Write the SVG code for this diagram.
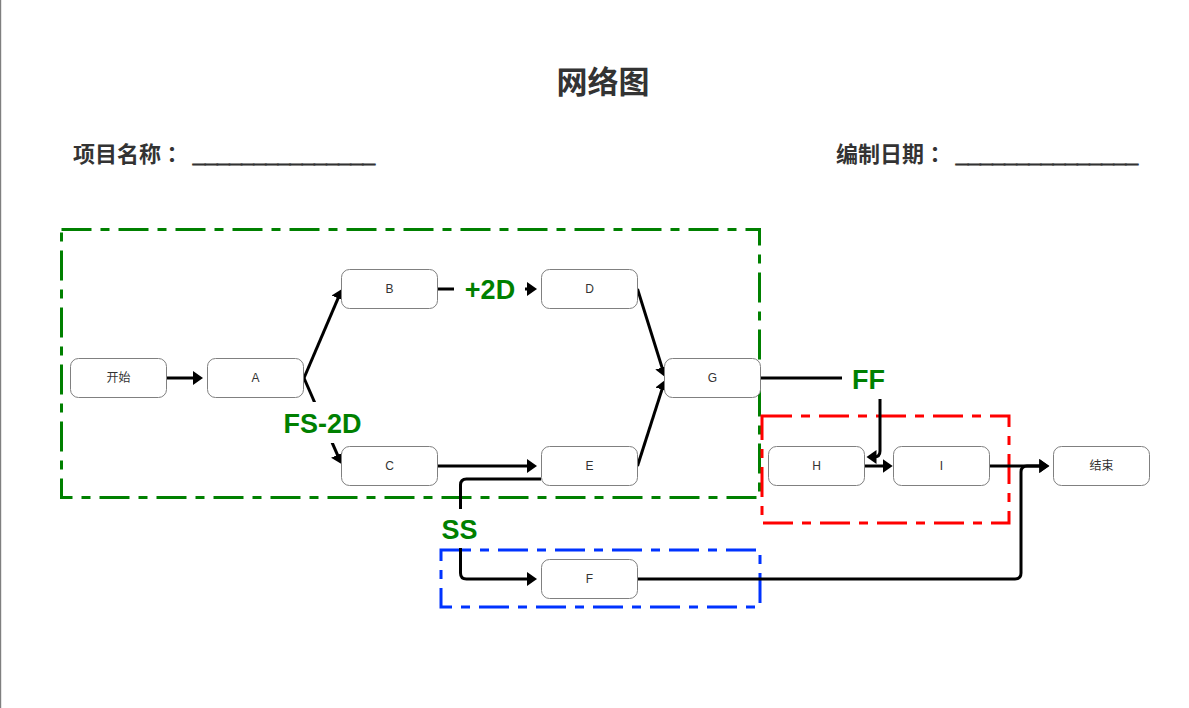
<svg xmlns="http://www.w3.org/2000/svg" width="1189" height="708" viewBox="0 0 1189 708">
<defs>
<marker id="arr" markerUnits="userSpaceOnUse" markerWidth="14" markerHeight="14" refX="7" refY="7" orient="auto">
<path d="M0,0 L10,7 L0,14 Z" fill="#000"/>
</marker>
<style>
.hdr{font-family:"Liberation Sans","Noto Sans CJK SC",sans-serif;font-weight:bold;fill:#333333}
.col{font-family:"Noto Sans CJK TC",sans-serif}
.ul{stroke:#333333;stroke-width:1.3}
.box{fill:#ffffff;stroke:#808080;stroke-width:1}
.nt{font-family:"Liberation Sans","Noto Sans CJK SC",sans-serif;font-size:12px;fill:#333333;text-anchor:middle}
.grp{fill:none;stroke-width:3;stroke-dasharray:30 9 9 9}
.cn{fill:none;stroke:#000;stroke-width:3;marker-end:url(#arr)}
.lb{font-family:"Liberation Sans",Arial,sans-serif;font-size:27px;font-weight:bold;fill:#008000;text-anchor:middle}
.lbg{fill:#ffffff}
</style>
</defs>
<rect x="0" y="0" width="1189" height="708" fill="#ffffff"/>
<rect x="0" y="0" width="1.2" height="708" fill="#7f7f7f"/>

<g id="header">
<text class="hdr" x="603" y="93" font-size="31" text-anchor="middle">网络图</text>
<text class="hdr" x="73" y="162" font-size="22">项目名称<tspan class="col">：</tspan></text>
<text class="hdr ul" x="193" y="162" font-size="22" textLength="182" lengthAdjust="spacingAndGlyphs">_______________</text>
<text class="hdr" x="836" y="162" font-size="22">编制日期<tspan class="col">：</tspan></text>
<text class="hdr ul" x="956" y="162" font-size="22" textLength="182" lengthAdjust="spacingAndGlyphs">_______________</text>
</g>

<g id="groups">
<rect id="grp-green" class="grp" x="61.5" y="229.5" width="698" height="268" stroke="#008000"/>
<rect id="grp-red" class="grp" x="762" y="416" width="247" height="107" stroke="#ff0000"/>
<rect id="grp-blue" class="grp" x="441" y="550" width="319" height="57" stroke="#0033ff"/>
</g>

<g id="connectors">
<path class="cn" d="M166.5 378 L200 378"/>
<path class="cn" d="M304 378 L340.8 291.8"/>
<path class="cn" d="M304 378 L340.3 461.3"/>
<path class="cn" d="M437.5 289 L534 289"/>
<path class="cn" d="M437.5 466 L534 466"/>
<path class="cn" d="M637.5 289 L664.1 374.1"/>
<path class="cn" d="M637.5 466 L664.1 382.9"/>
<path class="cn" d="M760.5 378 L874 378 Q880 378 880 384 L880 451 Q880 457 874 457 L869.5 457"/>
<path class="cn" d="M864.5 466 L889.7 466"/>
<path class="cn" d="M989.5 466 L1046.3 466"/>
<path class="cn" d="M637.5 579 L1015 579 Q1021 579 1021 573 L1021 472 Q1021 466 1027 466 L1046.3 466"/>
<path class="cn" d="M541 479 L466.5 479 Q460.5 479 460.5 485 L460.5 573 Q460.5 579 466.5 579 L534 579"/>
<rect class="lbg" x="454" y="276" width="71" height="28"/>
<text class="lb" x="490" y="299">+2D</text>
<rect class="lbg" x="281" y="402" width="83" height="41"/>
<text class="lb" x="322.5" y="433">FS-2D</text>
<rect class="lbg" x="842" y="362" width="54" height="37"/>
<text class="lb" x="868.5" y="389">FF</text>
<rect class="lbg" x="440" y="509" width="41" height="39"/>
<text class="lb" x="459.5" y="539">SS</text>
</g>

<g id="node-start"><rect class="box" x="70.5" y="358.5" width="96" height="39" rx="8"/><text class="nt" x="118.5" y="382">开始</text></g>
<g id="node-A"><rect class="box" x="207.5" y="358.5" width="96" height="39" rx="8"/><text class="nt" x="255.5" y="382">A</text></g>
<g id="node-B"><rect class="box" x="341.5" y="269.5" width="96" height="39" rx="8"/><text class="nt" x="389.5" y="293">B</text></g>
<g id="node-C"><rect class="box" x="341.5" y="446.5" width="96" height="39" rx="8"/><text class="nt" x="389.5" y="470">C</text></g>
<g id="node-D"><rect class="box" x="541.5" y="269.5" width="96" height="39" rx="8"/><text class="nt" x="589.5" y="293">D</text></g>
<g id="node-E"><rect class="box" x="541.5" y="446.5" width="96" height="39" rx="8"/><text class="nt" x="589.5" y="470">E</text></g>
<g id="node-F"><rect class="box" x="541.5" y="559.5" width="96" height="39" rx="8"/><text class="nt" x="589.5" y="583">F</text></g>
<g id="node-G"><rect class="box" x="664.5" y="358.5" width="96" height="39" rx="8"/><text class="nt" x="712.5" y="382">G</text></g>
<g id="node-H"><rect class="box" x="768.5" y="446.5" width="96" height="39" rx="8"/><text class="nt" x="816.5" y="470">H</text></g>
<g id="node-I"><rect class="box" x="893.5" y="446.5" width="96" height="39" rx="8"/><text class="nt" x="941.5" y="470">I</text></g>
<g id="node-end"><rect class="box" x="1053.5" y="446.5" width="96" height="39" rx="8"/><text class="nt" x="1101.5" y="470">结束</text></g>
</svg>
